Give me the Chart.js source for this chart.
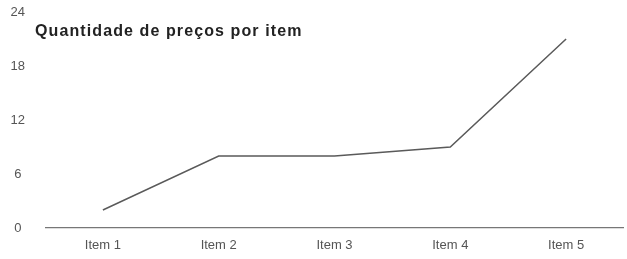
<!DOCTYPE html>
<html>
<head>
<meta charset="utf-8">
<script src="https://cdn.jsdelivr.net/npm/chart.js@4/dist/chart.umd.min.js"></script>
<style>
  html, body { margin: 0; padding: 0; background: #fff; }
  #wrap { position: relative; width: 627px; height: 259px; }
  #titulo {
    position: absolute; left: 35px; top: 22px;
    font-family: "Liberation Sans", Arial, sans-serif;
    font-weight: bold; font-size: 16px; letter-spacing: 1.1px;
    color: #222; white-space: nowrap;
  }
</style>
</head>
<body>
<div id="wrap">
  <canvas id="grafico" width="627" height="259"></canvas>
  <div id="titulo">Quantidade de preços por item</div>
</div>
<script>
const itens = ['Item 1', 'Item 2', 'Item 3', 'Item 4', 'Item 5'];
const quantidades = [2, 8, 8, 9, 21];
const ticksY = [0, 6, 12, 18, 24];

document.addEventListener("DOMContentLoaded", () => {
    const fonte = { family: '"Liberation Sans", Arial, sans-serif', size: 13 };

    new Chart(document.getElementById('grafico'), {
        type: 'line',
        data: {
            labels: itens,
            datasets: [{
                data: quantidades,
                borderColor: '#5a5a5a',
                borderWidth: 1.5,
                pointRadius: 0,
                tension: 0,
                fill: false
            }]
        },
        options: {
            responsive: false,
            animation: false,
            layout: { padding: { top: 12, right: 3, left: 0, bottom: 0 } },
            plugins: { legend: { display: false }, tooltip: { enabled: false } },
            scales: {
                x: {
                    offset: true,
                    grid: { display: false },
                    border: { display: false },
                    ticks: { color: '#555', font: fonte, padding: 2 },
                    afterFit: s => { s.height = 31; }
                },
                y: {
                    min: ticksY[0],
                    max: ticksY[ticksY.length - 1],
                    afterBuildTicks: s => { s.ticks = ticksY.map(v => ({ value: v })); },
                    grid: {
                        // espaço invisível entre os rótulos e a área do gráfico
                        drawTicks: true,
                        tickLength: 20,
                        tickColor: 'rgba(0,0,0,0)',
                        color: c => c.tick && c.tick.value === 0 ? '#777' : 'rgba(0,0,0,0)',
                        lineWidth: 1.2
                    },
                    border: { display: false },
                    ticks: { color: '#555', font: fonte, padding: 0, crossAlign: 'center' },
                    afterFit: s => { s.width = 45; }
                }
            }
        }
    });
});
</script>
</body>
</html>
